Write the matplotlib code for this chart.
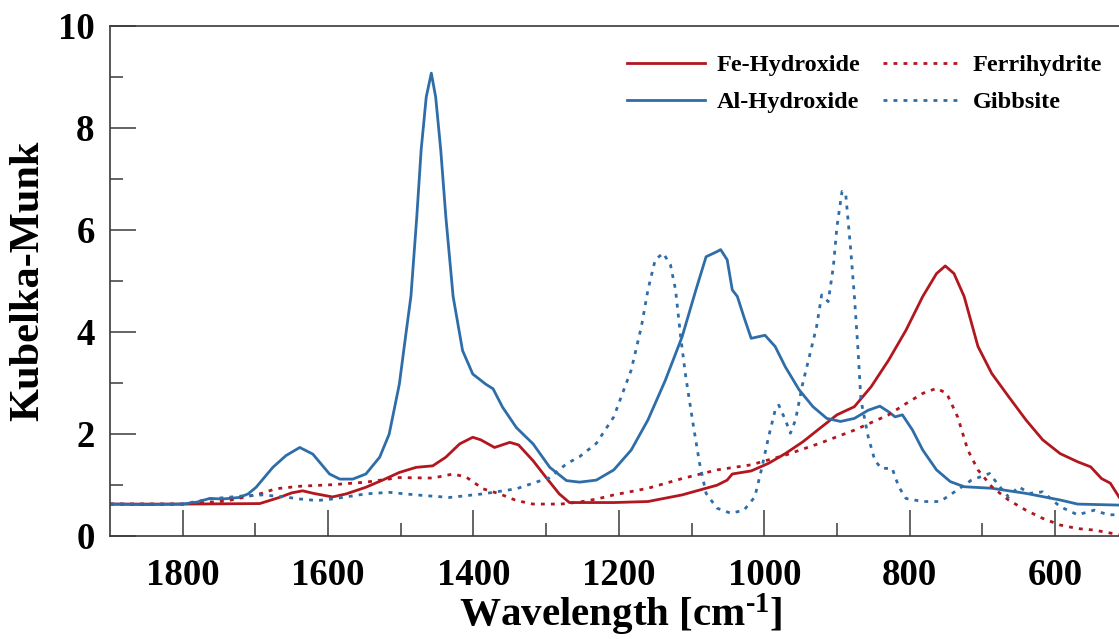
import matplotlib
matplotlib.use("Agg")
import matplotlib.pyplot as plt
from matplotlib.ticker import FixedLocator

plt.rcParams['font.family'] = ['Liberation Serif', 'DejaVu Serif']
plt.rcParams['font.weight'] = 'bold'
plt.rcParams['mathtext.fontset'] = 'custom'
plt.rcParams['mathtext.rm'] = 'Liberation Serif:bold'
plt.rcParams['mathtext.it'] = 'Liberation Serif:bold'
plt.rcParams['mathtext.bf'] = 'Liberation Serif:bold'

# ---------------- data (wavenumber cm^-1, Kubelka-Munk) ----------------
al_wn = [1900, 1850, 1800, 1780, 1763, 1745, 1722, 1710, 1699, 1676, 1658, 1639,
         1621, 1598, 1584, 1566, 1548, 1529, 1516, 1502, 1493, 1486, 1478, 1472,
         1465, 1458, 1452, 1445, 1438, 1428, 1415, 1401, 1383, 1373, 1360, 1341,
         1318, 1295, 1272, 1254, 1231, 1207, 1183, 1160, 1136, 1113, 1094, 1080,
         1065, 1060, 1051, 1044, 1037, 1028, 1018, 999, 985, 971, 952, 933, 914,
         895, 876, 857, 841, 829, 820, 810, 796, 782, 763, 744, 725, 687, 640,
         593, 569, 512]
al_km = [0.62, 0.61, 0.62, 0.66, 0.73, 0.72, 0.75, 0.82, 0.95, 1.34, 1.57, 1.73,
         1.60, 1.21, 1.11, 1.11, 1.21, 1.54, 1.99, 2.97, 3.95, 4.70, 6.25, 7.56,
         8.60, 9.07, 8.60, 7.56, 6.25, 4.69, 3.63, 3.17, 2.97, 2.88, 2.52, 2.12,
         1.80, 1.34, 1.08, 1.05, 1.09, 1.29, 1.68, 2.27, 3.05, 3.90, 4.82, 5.47,
         5.57, 5.61, 5.41, 4.82, 4.69, 4.29, 3.87, 3.93, 3.71, 3.31, 2.86, 2.53, 2.30,
         2.24, 2.30, 2.46, 2.54, 2.43, 2.33, 2.37, 2.07, 1.68, 1.29, 1.06, 0.96, 0.93, 0.83,
         0.70, 0.62, 0.60]

fe_wn = [1900, 1800, 1694, 1667, 1650, 1635, 1620, 1594, 1575, 1548, 1525, 1502,
         1479, 1456, 1438, 1419, 1401, 1390, 1371, 1350, 1338, 1318, 1300, 1282,
         1268, 1254, 1207, 1160, 1113, 1065, 1051, 1044, 1018, 994, 971, 947, 924,
         900, 876, 853, 829, 805, 782, 763, 751, 739, 725, 706, 687, 664, 640, 617,
         593, 569, 551, 536, 524, 512]
fe_km = [0.62, 0.62, 0.63, 0.75, 0.84, 0.88, 0.83, 0.76, 0.82, 0.95, 1.09, 1.24,
         1.34, 1.37, 1.54, 1.80, 1.93, 1.88, 1.73, 1.83, 1.78, 1.47, 1.14, 0.82,
         0.65, 0.65, 0.65, 0.67, 0.80, 0.99, 1.09, 1.21, 1.27, 1.42, 1.61, 1.84, 2.10,
         2.37, 2.53, 2.92, 3.44, 4.03, 4.69, 5.14, 5.29, 5.14, 4.69, 3.71, 3.18, 2.73,
         2.27, 1.88, 1.61, 1.45, 1.35, 1.12, 1.03, 0.76]

ferri_wn = [1900, 1800, 1740, 1694, 1672, 1639, 1594, 1548, 1502, 1456, 1428, 1410,
            1387, 1364, 1341, 1318, 1280, 1254, 1230, 1207, 1160, 1113, 1065, 1018,
            971, 924, 876, 829, 805, 782, 763, 749, 734, 720, 706, 687, 664, 640,
            617, 593, 569, 546, 512]
ferri_km = [0.62, 0.62, 0.68, 0.82, 0.92, 0.97, 1.00, 1.05, 1.14, 1.13, 1.21, 1.15,
            0.92, 0.82, 0.69, 0.62, 0.62, 0.66, 0.72, 0.80, 0.93, 1.12, 1.29, 1.39,
            1.58, 1.81, 2.07, 2.37, 2.59, 2.79, 2.89, 2.79, 2.33, 1.68, 1.29, 0.96,
            0.70, 0.50, 0.34, 0.21, 0.14, 0.11, 0.02]

gibb_wn = [1900, 1800, 1763, 1717, 1690, 1660, 1639, 1615, 1594, 1548, 1516, 1479,
           1433, 1387, 1341, 1295, 1272, 1254, 1231, 1207, 1183, 1169, 1160, 1150,
           1139, 1129, 1122, 1115, 1108, 1098, 1089, 1080, 1065, 1046, 1028, 1013,
           1004, 994, 985, 980, 971, 964, 957, 947, 938, 928, 921, 912, 905, 900,
           893, 888, 881, 876, 871, 867, 857, 848, 839, 824, 815, 805, 782, 758,
           734, 715, 690, 676, 664, 650, 635, 617, 593, 569, 546, 527, 512]
gibb_km = [0.62, 0.62, 0.72, 0.78, 0.80, 0.76, 0.72, 0.69, 0.72, 0.82, 0.85, 0.80,
           0.75, 0.82, 0.92, 1.14, 1.41, 1.55, 1.81, 2.33, 3.25, 4.10, 4.82, 5.41,
           5.54, 5.31, 4.82, 3.90, 3.12, 2.20, 1.42, 0.83, 0.54, 0.44, 0.50, 0.76,
           1.29, 1.94, 2.46, 2.56, 2.27, 2.01, 2.27, 2.99, 3.51, 4.10, 4.72, 4.59, 5.27, 6.06,
           6.75, 6.71, 5.60, 4.69, 3.64, 2.66, 1.94, 1.48, 1.32, 1.32, 0.96, 0.73, 0.67, 0.67,
           0.90, 1.09, 1.22, 0.96, 0.76, 0.96, 0.83, 0.86, 0.57, 0.41, 0.50, 0.41, 0.41]

labels = ["Fe-Hydroxide", "Al-Hydroxide", "Ferrihydrite", "Gibbsite"]
x_major = [1800, 1600, 1400, 1200, 1000, 800, 600]
x_minor = [1700, 1500, 1300, 1100, 900, 700]
y_major = [0, 2, 4, 6, 8, 10]
y_minor = [1, 3, 5, 7, 9]

RED = "#B2161E"
BLUE = "#2E6DA8"
DOT = (0, (1.4, 2.2))

W, H = 1119, 639
fig = plt.figure(figsize=(W / 100, H / 100), dpi=100)
left, right, top, bottom = 110, 1119, 25.7, 535.7
ax = fig.add_axes([left / W, 1 - bottom / H, (right - left) / W, (bottom - top) / H])

ax.plot(fe_wn, fe_km, color=RED, lw=2.0, label=labels[0])
ax.plot(al_wn, al_km, color=BLUE, lw=2.0, label=labels[1])
ax.plot(ferri_wn, ferri_km, color=RED, lw=2.0, ls=DOT, label=labels[2])
ax.plot(gibb_wn, gibb_km, color=BLUE, lw=2.0, ls=DOT, label=labels[3])

ax.set_xlim(1900, 512)
ax.set_ylim(0, 10)
ax.xaxis.set_major_locator(FixedLocator(x_major))
ax.xaxis.set_minor_locator(FixedLocator(x_minor))
ax.yaxis.set_major_locator(FixedLocator(y_major))
ax.yaxis.set_minor_locator(FixedLocator(y_minor))

SP = "#3a3a3a"
ax.tick_params(which='major', direction='in', length=18.7, width=1.1, color=SP,
               labelsize=26.5)
ax.tick_params(which='minor', direction='in', length=9.4, width=1.1, color=SP)
ax.tick_params(axis='x', which='major', pad=16)
ax.tick_params(axis='y', which='major', pad=11)
for lab in ax.get_xticklabels() + ax.get_yticklabels():
    lab.set_fontweight('bold')

for s in ['left', 'bottom', 'top']:
    ax.spines[s].set_color(SP)
    ax.spines[s].set_linewidth(1.2)
ax.spines['right'].set_visible(False)

fig.text(621 / W, 1 - 626 / H, r"Wavelength [cm$^{\text{-1}}$]", ha='center', va='baseline',
         fontsize=29.5, fontweight='bold')
fig.text(28 / W, 1 - 280.7 / H, "Kubelka-Munk", ha='center', va='center',
         rotation=90, fontsize=30.5, fontweight='bold')

leg = ax.legend(loc='upper left', bbox_to_anchor=(627 / W, 1 - 54 / H),
                bbox_transform=fig.transFigure, ncol=2, frameon=False,
                borderpad=0, borderaxespad=0, handlelength=3.2, handletextpad=0.5,
                columnspacing=0.9, labelspacing=0.62,
                prop={'family': 'Liberation Serif', 'weight': 'bold', 'size': 17.5})

fig.savefig("out.png", dpi=100)
